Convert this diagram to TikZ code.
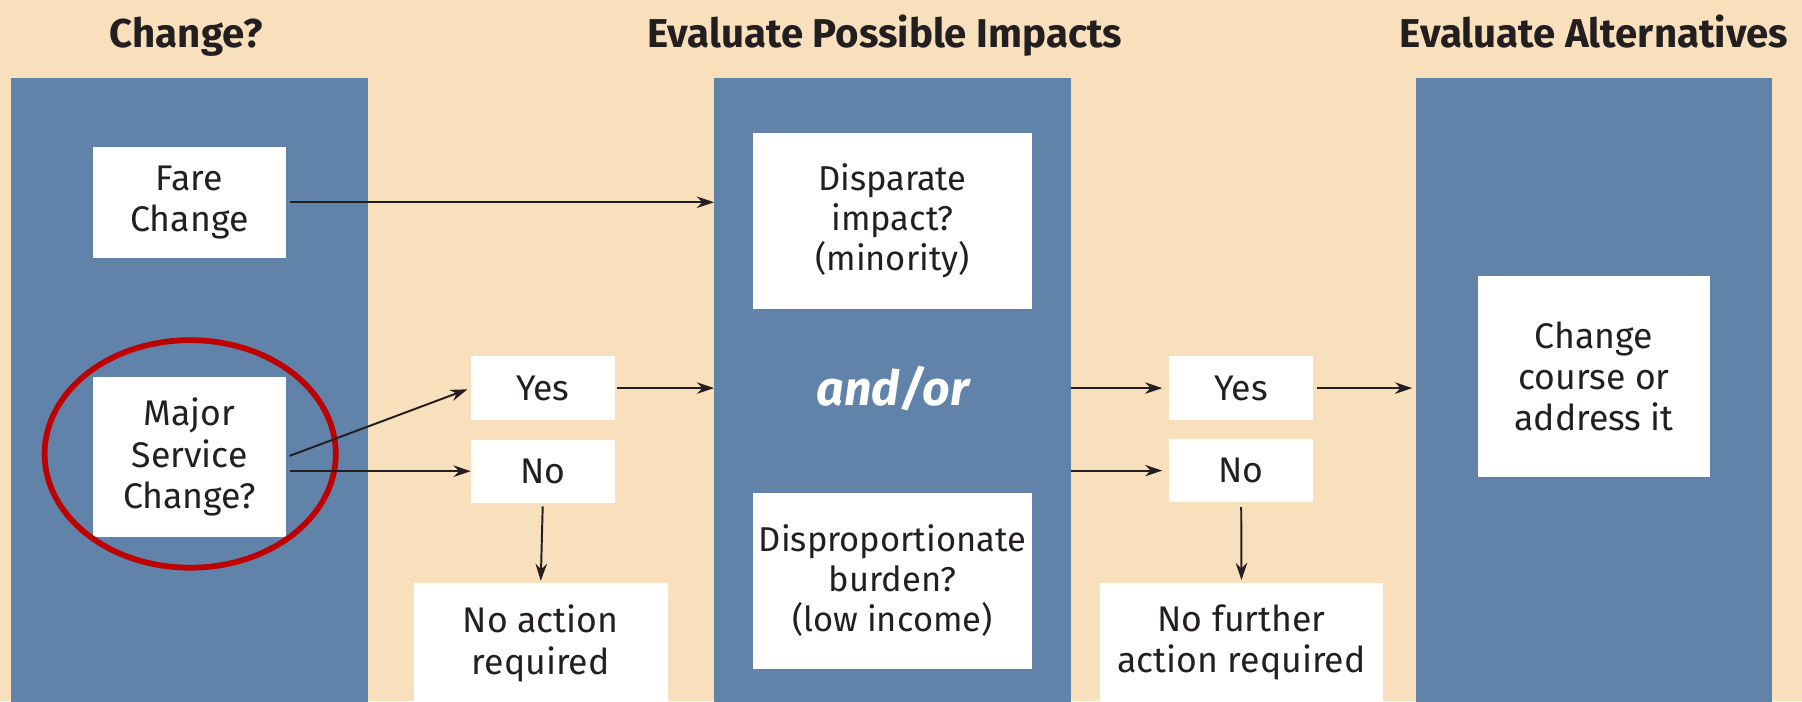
\documentclass[tikz,border=0pt]{standalone}
\usepackage{fontspec}
\setmainfont{Fira Sans}
\usetikzlibrary{arrows.meta}
\definecolor{peach}{RGB}{249,224,189}
\definecolor{colblue}{RGB}{97,131,170}
\definecolor{ringred}{RGB}{190,0,0}
\definecolor{inkgray}{RGB}{35,31,32}

\begin{document}
\begin{tikzpicture}[x=1pt,y=1pt,
    col/.style={fill=colblue,minimum width=310pt,minimum height=560pt,inner sep=0pt},
    box/.style={fill=white,align=center,inner sep=0pt,text=inkgray,font=\fontsize{31}{36}\selectfont},
    smallbox/.style={box,minimum width=125pt,minimum height=55pt},
    title/.style={anchor=base,text=inkgray,font=\bfseries\fontsize{35}{38}\selectfont},
    arr/.style={-{Stealth[length=15pt,width=10pt]},line width=1.7pt,draw=inkgray}]

    \useasboundingbox (0,0) rectangle (1568,610);
    \fill[peach] (0,0) rectangle (1568,610);
    \clip (0,0) rectangle (1568,610);

    \node[col] (colone) at (165,262) {};
    \node[col] (coltwo) at (776.5,262) {};
    \node[col] (colthree) at (1387,262) {};

    \node[title] (tone) at (162,569) {Change?};
    \node[title] (ttwo) at (770,569) {Evaluate Possible Impacts};
    \node[title] (tthree) at (1387,569) {Evaluate Alternatives};

    \node[box,minimum width=168pt,minimum height=97pt] (fare) at (164.8,434) {Fare\\Change};
    \node[box,minimum width=168pt,minimum height=140pt] (major) at (165,212.3) {Major\\Service\\Change?};
    \node[smallbox] (yesL) at (472.3,272.3) {Yes};
    \node[smallbox] (noL) at (472.3,200) {No};
    \node[box,minimum width=221pt,minimum height=104pt] (noact) at (470.5,50.3) {No action\\required};

    \node[box,minimum width=243pt,minimum height=153pt,font=\fontsize{30}{35}\selectfont] (disp) at (776.5,417.8) {Disparate\\impact?\\(minority)};
    \node[text=white,font=\bfseries\itshape\fontsize{42}{46}\selectfont] (andor) at (777,272) {and/or};
    \node[box,minimum width=243pt,minimum height=153pt,font=\fontsize{30}{35}\selectfont] (burden) at (776.5,104.6) {Disproportionate\\burden?\\(low income)};

    \node[smallbox] (yesR) at (1080,272.3) {Yes};
    \node[smallbox] (noR) at (1080,200.5) {No};
    \node[box,minimum width=247pt,minimum height=104pt] (nofur) at (1080.3,51) {No further\\action required};
    \node[box,minimum width=202pt,minimum height=175pt] (alt) at (1387,282.5) {Change\\course or\\address it};

    \draw[ringred,line width=5pt] (165.5,215) ellipse [x radius=126.7, y radius=99];

    \draw[arr,shorten <=3pt] (fare.east) -- (fare.east -| coltwo.west);
    \draw[arr,shorten <=3pt,shorten >=3pt] (major.east) -- (yesL.west);
    \draw[arr,shorten <=3pt] (noL.west -| major.east) -- (noL.west);
    \draw[arr,shorten <=3pt,shorten >=2pt] (noL.south) -- (noact.north);
    \draw[arr,shorten <=2pt] (yesL.east) -- (yesL.east -| coltwo.west);

    \draw[arr,shorten >=6pt] (yesR.west -| coltwo.east) -- (yesR.west);
    \draw[arr,shorten >=6pt] (noR.west -| coltwo.east) -- (noR.west);
    \draw[arr,shorten <=3pt,shorten >=3pt] (yesR.east) -- (yesR.east -| colthree.west);
    \draw[arr,shorten <=4pt,shorten >=2pt] (noR.south) -- (nofur.north);
\end{tikzpicture}
\end{document}
